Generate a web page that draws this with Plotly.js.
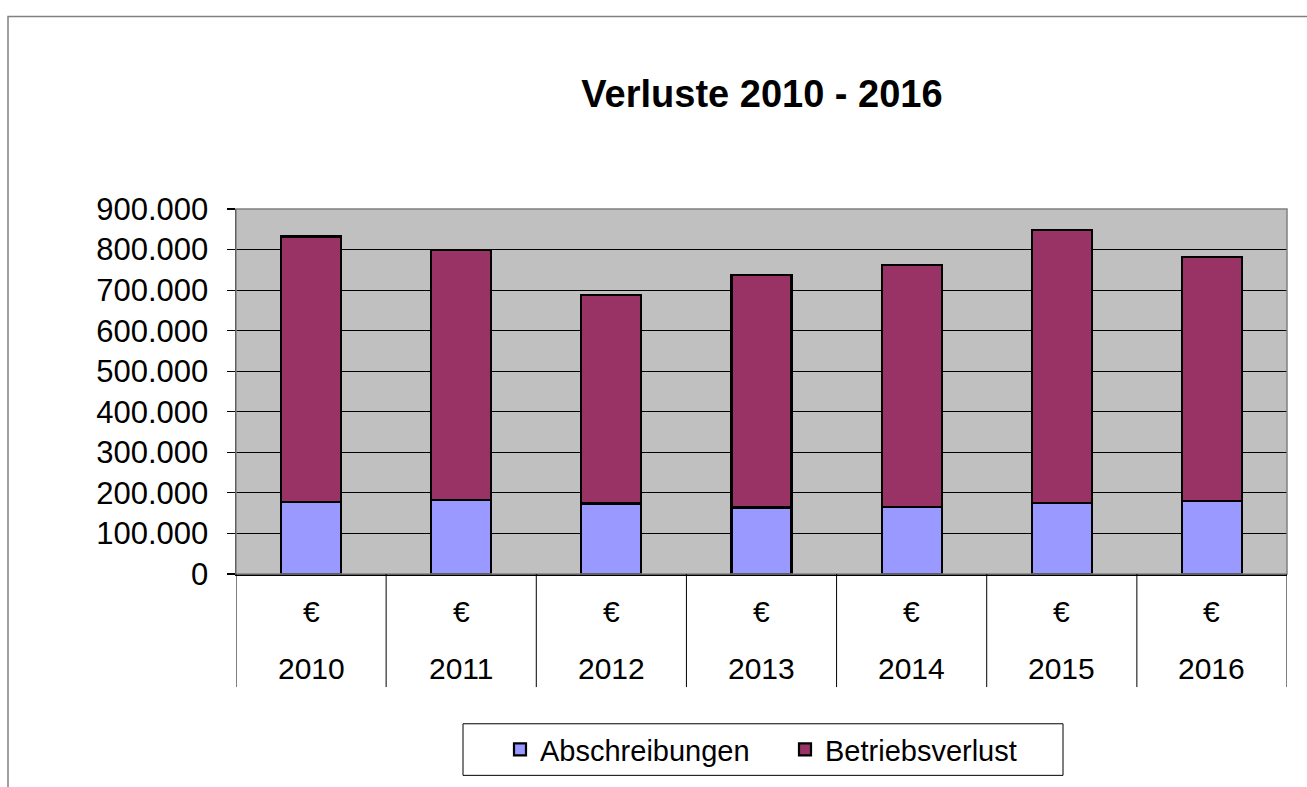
<!DOCTYPE html>
<html>
<head>
<meta charset="utf-8">
<script src="https://cdn.plot.ly/plotly-3.0.1.min.js"></script>
<style>
html,body{margin:0;padding:0;background:#fff;}
#chart{width:1307px;height:787px;}
</style>
</head>
<body>
<div id="chart"></div>
<script>
// ---- data ----
const years = ["2010", "2011", "2012", "2013", "2014", "2015", "2016"];
const currencyLabels = ["€", "€", "€", "€", "€", "€", "€"];
const abschreibungen = [177000, 183000, 174000, 164000, 166000, 175000, 180000];
const betriebsverlust = [655000, 615000, 513000, 574000, 595000, 673000, 601000];
const seriesNames = ["Abschreibungen", "Betriebsverlust"];
const titleText = "Verluste 2010 - 2016";

// ---- geometry helpers (pixels -> paper) ----
const W = 1307, H = 787;
const L = 236, R = 20, T = 209, B = 210;
const pw = W - L - R, ph = H - T - B;
const px = x => (x - L) / pw;
const py = y => (H - B - y) / ph;

const font = "Liberation Sans, Arial, sans-serif";

const traces = [
  {
    type: "bar", name: seriesNames[0], x: years, y: abschreibungen,
    marker: {color: "#9999FF", line: {color: "#000000", width: 2.2}},
    hoverinfo: "x+y+name"
  },
  {
    type: "bar", name: seriesNames[1], x: years, y: betriebsverlust,
    marker: {color: "#993366", line: {color: "#000000", width: 2.2}},
    hoverinfo: "x+y+name"
  }
];

const annotations = [];
years.forEach((yr, i) => {
  annotations.push({x: i, xref: "x", y: py(615), yref: "paper", text: currencyLabels[i],
    showarrow: false, xanchor: "center", yanchor: "middle", font: {family: font, size: 30, color: "#000"}});
  annotations.push({x: i, xref: "x", y: py(672), yref: "paper", text: yr,
    showarrow: false, xanchor: "center", yanchor: "middle", font: {family: font, size: 30, color: "#000"}});
});

const shapes = [];
// outer chart border
shapes.push({type: "rect", xref: "paper", yref: "paper", x0: px(8), x1: px(1340), y0: py(15), y1: py(820),
  line: {color: "#808080", width: 1.5}, fillcolor: "rgba(0,0,0,0)", layer: "below"});
// plot area border
shapes.push({type: "rect", xref: "paper", yref: "paper", x0: 0, x1: 1, y0: 0, y1: 1,
  line: {color: "#808080", width: 1.5}, fillcolor: "rgba(0,0,0,0)"});
// category dividers below axis
for (let i = 0; i <= years.length; i++) {
  shapes.push({type: "line", xref: "x", yref: "paper", x0: i - 0.5, x1: i - 0.5, y0: 0, y1: py(691),
    line: {color: "#000000", width: 1}});
}
// legend box
shapes.push({type: "rect", xref: "paper", yref: "paper", x0: px(463), x1: px(1063), y0: py(728), y1: py(780),
  line: {color: "#000000", width: 1}, fillcolor: "rgba(0,0,0,0)"});

const layout = {
  width: W, height: H,
  margin: {l: L, r: R, t: T, b: B, pad: 0},
  paper_bgcolor: "#ffffff",
  plot_bgcolor: "#C0C0C0",
  separators: ",.",
  font: {family: font, size: 29, color: "#000"},
  title: {text: "<b>" + titleText + "</b>", font: {family: font, size: 38, color: "#000"},
    x: (762) / W, xref: "container", xanchor: "center", y: 1 - 94 / H, yref: "container", yanchor: "middle"},
  barmode: "stack",
  bargap: 0.6,
  showlegend: true,
  legend: {orientation: "h", x: px(500), xanchor: "left", y: py(754), yanchor: "middle",
    traceorder: "normal", bgcolor: "rgba(0,0,0,0)", borderwidth: 0,
    font: {family: font, size: 29, color: "#000"}, entrywidth: 240, entrywidthmode: "pixels"},
  xaxis: {type: "category", range: [-0.5, years.length - 0.5], autorange: false,
    showticklabels: false, ticks: "", showgrid: false,
    showline: true, linecolor: "#000", linewidth: 1.5, zeroline: false, fixedrange: true},
  yaxis: {range: [0, 900000], autorange: false, dtick: 100000, tick0: 0, tickformat: ",d",
    showgrid: true, gridcolor: "#000000", gridwidth: 1, zeroline: false,
    showline: true, linecolor: "#000", linewidth: 1.5,
    ticks: "outside", ticklen: 8, tickcolor: "#000", tickwidth: 1.2, ticklabelstandoff: 12,
    tickfont: {family: font, size: 31, color: "#000"}, fixedrange: true},
  annotations: annotations,
  shapes: shapes
};

Plotly.newPlot("chart", traces, layout, {displayModeBar: false, staticPlot: true});
</script>
</body>
</html>
